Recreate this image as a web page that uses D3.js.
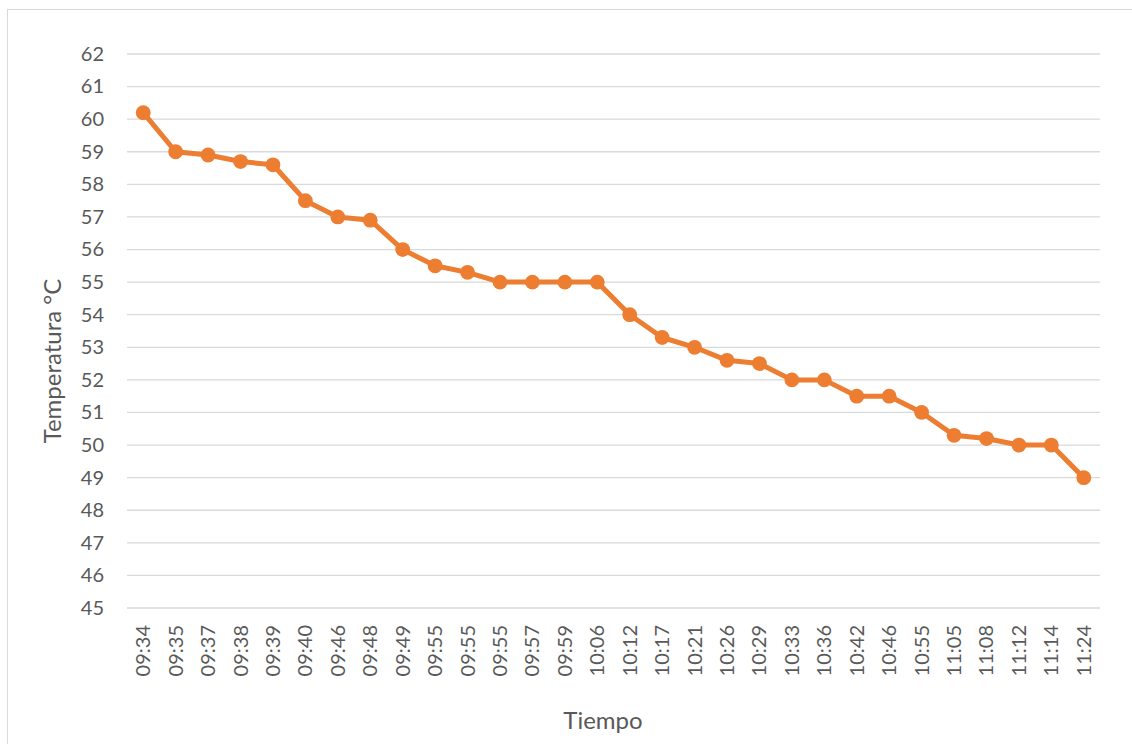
<!DOCTYPE html>
<html>
<head>
<meta charset="utf-8">
<script src="https://cdn.jsdelivr.net/npm/d3@7"></script>
<style>
  html, body { margin: 0; padding: 0; background: #fff; }
  svg { display: block; }
  text { font-family: Lato, "Open Sans", sans-serif; fill: #595959; }
</style>
</head>
<body>
<svg id="chart" width="1132" height="744"></svg>
<script>
const categories = ["09:34","09:35","09:37","09:38","09:39","09:40","09:46","09:48","09:49","09:55","09:55","09:55","09:57","09:59","10:06","10:12","10:17","10:21","10:26","10:29","10:33","10:36","10:42","10:46","10:55","11:05","11:08","11:12","11:14","11:24"];
const temperatures = [60.2,59.0,58.9,58.7,58.6,57.5,57.0,56.9,56.0,55.5,55.3,55.0,55.0,55.0,55.0,54.0,53.3,53.0,52.6,52.5,52.0,52.0,51.5,51.5,51.0,50.3,50.2,50.0,50.0,49.0];
const yTicks = [45,46,47,48,49,50,51,52,53,54,55,56,57,58,59,60,61,62];
const xTitle = "Tiempo";
const yTitle = "Temperatura °C";

const svg = d3.select("#chart");
const plotLeft = 127, plotRight = 1100, plotTop = 54, plotBottom = 608;
const idx = d3.range(categories.length);

// chart border
svg.append("rect").attr("x", 7.5).attr("y", 9.5).attr("width", 1140).attr("height", 760)
  .attr("fill", "none").attr("stroke", "#d9d9d9").attr("stroke-width", 1);

const x = d3.scaleBand().domain(idx).range([plotLeft, plotRight]).padding(0);
const y = d3.scaleLinear().domain([45, 62]).range([plotBottom, plotTop]);

// gridlines
svg.append("g").selectAll("line").data(yTicks).join("line")
  .attr("x1", plotLeft).attr("x2", plotRight)
  .attr("y1", d => y(d)).attr("y2", d => y(d))
  .attr("stroke", "#d9d9d9").attr("stroke-width", 1.3);

// y axis
const yAxis = svg.append("g").attr("transform", `translate(${plotLeft},0)`)
  .call(d3.axisLeft(y).tickValues(yTicks).tickSize(0).tickPadding(23).tickFormat(d3.format("d")));
yAxis.select(".domain").remove();
yAxis.selectAll("text").style("font-size", "20px").attr("fill", "#595959")
  .style("font-family", "Lato, 'Open Sans', sans-serif");

// x axis labels
const xAxis = svg.append("g").attr("transform", `translate(0,${plotBottom})`)
  .call(d3.axisBottom(x).tickSize(0).tickFormat(i => categories[i]));
xAxis.select(".domain").remove();
xAxis.selectAll("text")
  .style("font-size", "20px").attr("fill", "#595959")
  .style("font-family", "Lato, 'Open Sans', sans-serif")
  .attr("transform", "rotate(-90)")
  .attr("text-anchor", "end")
  .attr("x", -17).attr("y", 0).attr("dy", "0.35em");

// line
const line = d3.line().x(i => x(i) + x.bandwidth() / 2).y(i => y(temperatures[i]));
svg.append("path").datum(idx).attr("d", line)
  .attr("fill", "none").attr("stroke", "#ED7D31").attr("stroke-width", 5)
  .attr("stroke-linejoin", "round");

svg.append("g").selectAll("circle").data(idx).join("circle")
  .attr("cx", i => x(i) + x.bandwidth() / 2)
  .attr("cy", i => y(temperatures[i]))
  .attr("r", 7.4).attr("fill", "#ED7D31");

// titles
svg.append("text").attr("x", 603).attr("y", 729).attr("text-anchor", "middle")
  .style("font-size", "24px").text(xTitle);
svg.append("text").attr("transform", "translate(61,361) rotate(-90)")
  .attr("text-anchor", "middle").style("font-size", "24px").text(yTitle);
</script>
</body>
</html>
